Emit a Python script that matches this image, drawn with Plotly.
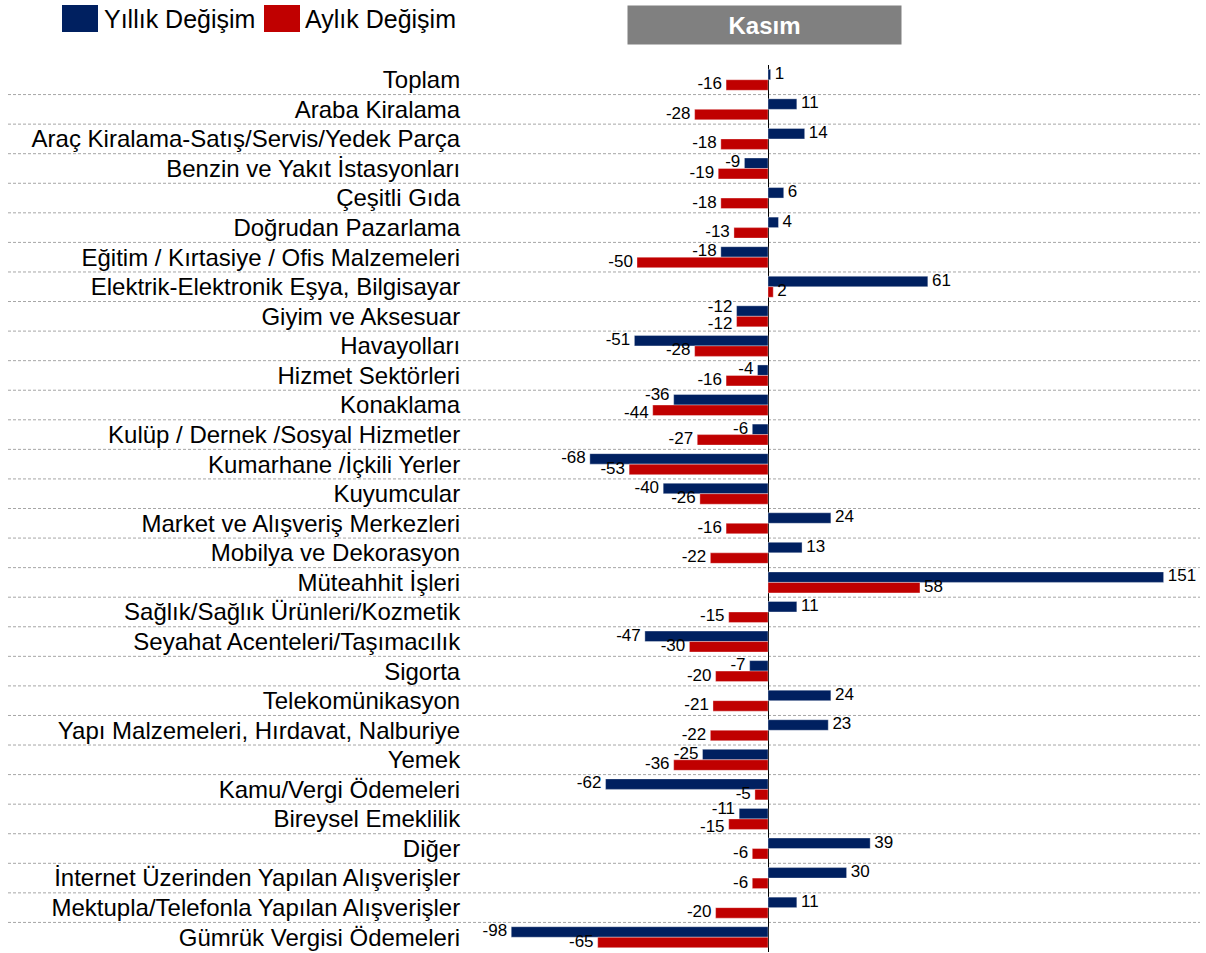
import plotly.graph_objects as go

categories = [
    "Toplam", "Araba Kiralama", "Araç Kiralama-Satış/Servis/Yedek Parça",
    "Benzin ve Yakıt İstasyonları", "Çeşitli Gıda", "Doğrudan Pazarlama",
    "Eğitim / Kırtasiye / Ofis Malzemeleri", "Elektrik-Elektronik Eşya, Bilgisayar",
    "Giyim ve Aksesuar", "Havayolları", "Hizmet Sektörleri", "Konaklama",
    "Kulüp / Dernek /Sosyal Hizmetler", "Kumarhane /İçkili Yerler", "Kuyumcular",
    "Market ve Alışveriş Merkezleri", "Mobilya ve Dekorasyon", "Müteahhit İşleri",
    "Sağlık/Sağlık Ürünleri/Kozmetik", "Seyahat Acenteleri/Taşımacılık", "Sigorta",
    "Telekomünikasyon", "Yapı Malzemeleri, Hırdavat, Nalburiye", "Yemek",
    "Kamu/Vergi Ödemeleri", "Bireysel Emeklilik", "Diğer",
    "İnternet Üzerinden Yapılan Alışverişler", "Mektupla/Telefonla Yapılan Alışverişler",
    "Gümrük Vergisi Ödemeleri",
]
yillik = [1, 11, 14, -9, 6, 4, -18, 61, -12, -51, -4, -36, -6, -68, -40,
          24, 13, 151, 11, -47, -7, 24, 23, -25, -62, -11, 39, 30, 11, -98]
aylik = [-16, -28, -18, -19, -18, -13, -50, 2, -12, -28, -16, -44, -27, -53, -26,
         -16, -22, 58, -15, -30, -20, -21, -22, -36, -5, -15, -6, -6, -20, -65]
series_names = ["Yıllık Değişim", "Aylık Değişim"]
title_text = "Kasım"

BLUE = "#002060"
RED = "#C00000"
FONT = "Liberation Sans, Arial, sans-serif"

W, H = 1206, 953
ML, MR, MT, MB = 470, 6, 65, 1
PW, PH = W - ML - MR, H - MT - MB
BARGAP = 0.29
BAR_W = (1 - BARGAP) / 2          # thickness of one bar in category units
CLASH_NUDGE = 0.12                # spread two value labels apart when they would collide


def px(x):
    return (x - ML) / PW


def py(y):
    return (H - MB - y) / PH


idx = list(range(len(categories)))
clash = [(a >= 0) == (b >= 0) and abs(a - b) < 10 for a, b in zip(yillik, aylik)]

fig = go.Figure()
series = [(series_names[0], yillik, BLUE, -1), (series_names[1], aylik, RED, 1)]
for name, vals, col, side in series:
    fig.add_trace(go.Bar(
        y=idx, x=vals, name=name, orientation="h",
        marker=dict(color=col, line=dict(color="rgba(255,255,255,0.35)", width=1)),
        showlegend=False, hovertext=categories,
    ))
for name, vals, col, side in series:
    ypos = [i + side * (BAR_W / 2 + (CLASH_NUDGE if c else 0)) for i, c in zip(idx, clash)]
    fig.add_trace(go.Scatter(
        y=ypos, x=vals, mode="markers+text",
        marker=dict(size=5, opacity=0),
        text=[str(v) for v in vals],
        textposition=["middle right" if v >= 0 else "middle left" for v in vals],
        textfont=dict(family=FONT, size=17, color="black"),
        cliponaxis=False, showlegend=False, hoverinfo="skip",
    ))

shapes = []
for i in idx[:-1]:
    shapes.append(dict(type="line", xref="paper", yref="y",
                       x0=px(8), x1=1, y0=i + 0.5, y1=i + 0.5,
                       line=dict(color="#a6a6a6", width=1, dash="3px,2px"), layer="below"))

# custom legend
annotations = []
leg = [(62, 98, 102, BLUE, series_names[0]), (264, 300, 303, RED, series_names[1])]
for x0, x1, tx, col, name in leg:
    shapes.append(dict(type="rect", xref="paper", yref="paper",
                       x0=px(x0), x1=px(x1), y0=py(32), y1=py(5),
                       fillcolor=col, line=dict(width=0)))
    annotations.append(dict(xref="paper", yref="paper", x=px(tx), y=py(19),
                            xanchor="left", yanchor="middle", showarrow=False,
                            text=name, font=dict(family=FONT, size=25, color="black")))

annotations.append(dict(xref="paper", yref="paper", x=px(764.5), y=py(25),
                        xanchor="center", yanchor="middle", showarrow=False,
                        text="<b>" + title_text + "</b>", width=273, height=38,
                        bgcolor="#808080", borderpad=0,
                        font=dict(family=FONT, size=24, color="white")))

fig.update_layout(
    width=W, height=H,
    margin=dict(l=ML, r=MR, t=MT, b=MB, autoexpand=False),
    paper_bgcolor="white", plot_bgcolor="white",
    barmode="group", bargap=BARGAP, bargroupgap=0,
    shapes=shapes, annotations=annotations,
    font=dict(family=FONT, color="black"),
    xaxis=dict(range=[(ML - 768) / 2.62, (W - MR - 768) / 2.62],
               showgrid=False, showticklabels=False, ticks="",
               zeroline=True, zerolinecolor="black", zerolinewidth=1,
               showline=False, automargin=False),
    yaxis=dict(range=[len(categories) - 0.5, -0.5],
               tickmode="array", tickvals=idx, ticktext=categories,
               showgrid=False, zeroline=False,
               ticks="outside", ticklen=4, tickcolor="rgba(0,0,0,0)",
               tickfont=dict(family=FONT, size=24, color="black"),
               automargin=False),
)

fig.write_html("out.html", config={"displayModeBar": False},
               post_script="document.body.style.margin='0';")
